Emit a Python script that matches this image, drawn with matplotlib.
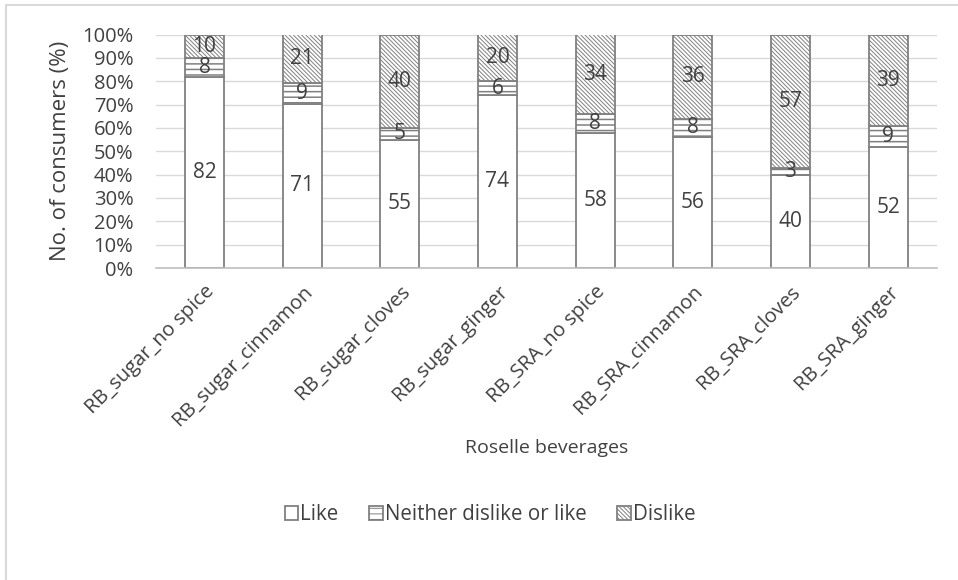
import matplotlib
matplotlib.use("Agg")
import matplotlib.pyplot as plt
from matplotlib.patches import Rectangle
import numpy as np

plt.rcParams['font.family'] = ['Open Sans', 'DejaVu Sans']
plt.rcParams['hatch.linewidth'] = 0.7

categories = ["RB_sugar_no spice", "RB_sugar_cinnamon", "RB_sugar_cloves",
              "RB_sugar_ginger", "RB_SRA_no spice", "RB_SRA_cinnamon",
              "RB_SRA_cloves", "RB_SRA_ginger"]
like = [82, 71, 55, 74, 58, 56, 40, 52]
neither = [8, 9, 5, 6, 8, 8, 3, 9]
dislike = [10, 21, 40, 20, 34, 36, 57, 39]
series_names = ["Like", "Neither dislike or like", "Dislike"]
y_ticks = [0, 10, 20, 30, 40, 50, 60, 70, 80, 90, 100]

TEXT = "#404040"
EDGE = "#808080"

fig = plt.figure(figsize=(9.58, 5.8), dpi=100)
W, H = 958, 580
ax = fig.add_axes([155.6 / W, 1 - 268 / H, (937 - 155.6) / W, (268 - 34.5) / H])

# chart-area frame (only top and left edges fall inside the canvas)
fig.patches.append(Rectangle((6 / W, -0.2), 1.2, 1.2 - 5 / H, transform=fig.transFigure,
                             fill=False, edgecolor="#d9d9d9", linewidth=1.5))

vals = np.array([like, neither, dislike], dtype=float)
pct = vals / vals.sum(axis=0) * 100
x = np.arange(len(categories))
hatches = [None, "---", "\\\\\\\\\\\\\\\\"]
hatch_lw = [0.7, 1.1, 0.7]
bottom = np.zeros(len(categories))
handles = []
for i, name in enumerate(series_names):
    with plt.rc_context({'hatch.linewidth': hatch_lw[i]}):
        bars = ax.bar(x, pct[i], width=0.4, bottom=bottom, color="white",
                      edgecolor=EDGE, linewidth=1.3, hatch=hatches[i], label=name,
                      zorder=3)
    handles.append(bars)
    for xi, b, h, v in zip(x, bottom, pct[i], vals[i]):
        ax.text(xi, b + h / 2, f"{int(v)}", ha="center", va="center",
                fontsize=15, color=TEXT, zorder=4)
    bottom += pct[i]

ax.set_xlim(-0.5, len(categories) - 0.5)
ax.set_ylim(0, 100)
ax.set_yticks(y_ticks)
ax.set_yticklabels([f"{t}%" for t in y_ticks], fontsize=14.5, color=TEXT)
ax.set_xticks(x)
ax.set_xticklabels(categories, rotation=45, ha="right", rotation_mode="anchor",
                   fontsize=14.5, color=TEXT)
ax.tick_params(axis="y", length=0, pad=16)
ax.tick_params(axis="x", length=0, pad=10)
ax.yaxis.grid(True, color="#d9d9d9", linewidth=1, zorder=0)
ax.set_axisbelow(True)
for s in ["top", "right", "left"]:
    ax.spines[s].set_visible(False)
ax.spines["bottom"].set_color("#bfbfbf")
ax.spines["bottom"].set_linewidth(1.2)
ax.spines["bottom"].set_zorder(5)

ax.set_ylabel("No. of consumers (%)", fontsize=16, color=TEXT, labelpad=8)
fig.text(547 / W, 1 - 448 / H, "Roselle beverages", ha="center", va="center",
         fontsize=14, color=TEXT)

fig.legend(handles=handles, labels=series_names, loc="center",
           bbox_to_anchor=(490 / W, 1 - 515 / H), ncol=3, frameon=False,
           fontsize=14.8, labelcolor=TEXT, handlelength=0.65, handleheight=0.65,
           handletextpad=0.1, columnspacing=1.5)

fig.savefig("out.png", dpi=100, facecolor="white")
